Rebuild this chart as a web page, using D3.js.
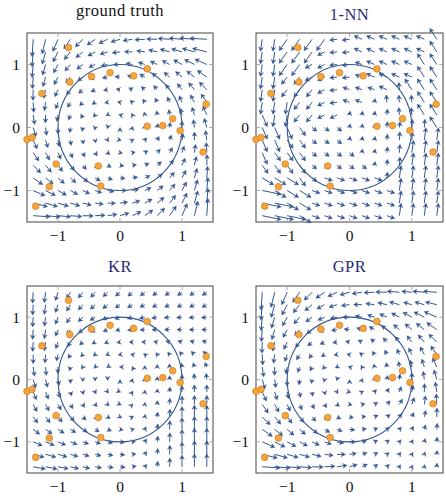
<!DOCTYPE html>
<html><head><meta charset="utf-8">
<script src="https://cdn.jsdelivr.net/npm/d3@7"></script>
<style>body{margin:0;background:#fff}svg{display:block}</style>
</head><body>
<svg id="chart" width="446" height="503"></svg>
<script>
const titles = ["ground truth", "1-NN", "KR", "GPR"];
const tickValues = [-1, 0, 1];
const gridX = [-1.4,-1.2,-1.0,-0.8,-0.6,-0.4,-0.2,0,0.2,0.4,0.6,0.8,1.0,1.2,1.4];
const gridY = [1.4,1.2,1.0,0.8,0.6,0.4,0.2,0,-0.2,-0.4,-0.6,-0.8,-1.0,-1.2,-1.4];
const pointX = [-0.83,0.44,-0.16,0.22,-0.46,-0.81,-1.26,1.39,0.85,0.44,0.69,0.97,-1.50,-1.42,1.34,-1.03,-0.35,-1.14,-0.31,-1.36];
const pointY = [1.27,0.93,0.87,0.82,0.81,0.72,0.54,0.37,0.14,0.02,0.03,-0.05,-0.19,-0.16,-0.39,-0.58,-0.61,-0.94,-0.93,-1.25];
// observed vector at each data point
const pointU = [-.95,-.94,-.88,-.80,-.83,-.68,-.21,-.82,-.07,.09,.08,.07,.77,.60,.2,.70,.56,1.35,.93,2.23];
const pointV = [-1.32,.42,-.10,.29,-.43,-.85,-1.40,1.27,.86,.44,.69,.97,-1.43,-1.37,1.45,-.96,-.44,-.81,-.32,-.45];

// ground truth vector field, rows top (y=1.4) to bottom (y=-1.4)
const truthU = [
[-.17,-.54,-.81,-1.02,-1.16,-1.26,-1.34,-1.4,-1.46,-1.54,-1.64,-1.78,-1.99,-2.26,-2.63],
[-.19,-.53,-.77,-.94,-1.06,-1.13,-1.17,-1.2,-1.23,-1.27,-1.34,-1.46,-1.63,-1.87,-2.21],
[-.17,-.48,-.7,-.85,-.93,-.98,-1.0,-1,-1.0,-1.02,-1.07,-1.15,-1.3,-1.52,-1.83],
[-.13,-.42,-.61,-.74,-.8,-.82,-.82,-.8,-.78,-.78,-.8,-.86,-.99,-1.18,-1.47],
[-.04,-.31,-.49,-.6,-.65,-.66,-.64,-.6,-.56,-.54,-.55,-.6,-.71,-.89,-1.16],
[.08,-.18,-.35,-.45,-.48,-.48,-.45,-.4,-.35,-.32,-.32,-.35,-.45,-.62,-.88],
[.22,-.03,-.19,-.28,-.31,-.3,-.26,-.2,-.14,-.1,-.09,-.12,-.21,-.37,-.62],
[.41,.16,0,-.09,-.11,-.1,-.06,0,.06,.1,.11,.09,0,-.16,-.41],
[.62,.37,.21,.12,.09,.1,.14,.2,.26,.3,.31,.28,.19,.03,-.22],
[.88,.62,.45,.35,.32,.32,.35,.4,.45,.48,.48,.45,.35,.18,-.08],
[1.16,.89,.71,.6,.55,.54,.56,.6,.64,.66,.65,.6,.49,.31,.04],
[1.47,1.18,.99,.86,.8,.78,.78,.8,.82,.82,.8,.74,.61,.42,.13],
[1.83,1.52,1.3,1.15,1.07,1.02,1,1,1,.98,.93,.85,.7,.48,.17],
[2.21,1.87,1.63,1.46,1.34,1.27,1.23,1.2,1.17,1.13,1.06,.94,.77,.53,.19],
[2.63,2.26,1.99,1.78,1.64,1.54,1.46,1.4,1.34,1.26,1.16,1.02,.81,.54,.17]
];
const truthV = [
[-2.63,-2.21,-1.83,-1.47,-1.16,-.88,-.62,-.41,-.22,-.08,.04,.13,.17,.19,.17],
[-2.26,-1.87,-1.52,-1.18,-.89,-.62,-.37,-.16,.03,.18,.31,.42,.48,.53,.54],
[-1.99,-1.63,-1.3,-.99,-.71,-.45,-.21,0,.19,.35,.49,.61,.7,.77,.81],
[-1.78,-1.46,-1.15,-.86,-.6,-.35,-.12,.09,.28,.45,.6,.74,.85,.94,1.02],
[-1.64,-1.34,-1.07,-.8,-.55,-.32,-.09,.11,.31,.48,.65,.8,.93,1.06,1.16],
[-1.54,-1.27,-1.02,-.78,-.54,-.32,-.1,.1,.3,.48,.66,.82,.98,1.13,1.26],
[-1.46,-1.23,-1.0,-.78,-.56,-.35,-.14,.06,.26,.45,.64,.82,1.0,1.17,1.34],
[-1.4,-1.2,-1,-.8,-.6,-.4,-.2,0,.2,.4,.6,.8,1,1.2,1.4],
[-1.34,-1.17,-1.0,-.82,-.64,-.45,-.26,-.06,.14,.35,.56,.78,1.0,1.23,1.46],
[-1.26,-1.13,-.98,-.82,-.66,-.48,-.3,-.1,.1,.32,.54,.78,1.02,1.27,1.54],
[-1.16,-1.06,-.93,-.8,-.65,-.48,-.31,-.11,.09,.32,.55,.8,1.07,1.34,1.64],
[-1.02,-.94,-.85,-.74,-.6,-.45,-.28,-.09,.12,.35,.6,.86,1.15,1.46,1.78],
[-.81,-.77,-.7,-.61,-.49,-.35,-.19,0,.21,.45,.71,.99,1.3,1.63,1.99],
[-.54,-.53,-.48,-.42,-.31,-.18,-.03,.16,.37,.62,.89,1.18,1.52,1.87,2.26],
[-.17,-.19,-.17,-.13,-.04,.08,.22,.41,.62,.88,1.16,1.47,1.83,2.21,2.63]
];

// 1-NN: index (1-based) of the data point whose vector each grid cell shows
const nnCell = [
[7,7,1,1,1,1,3,3,2,2,2,2,2,2,8],
[7,7,1,1,1,5,3,3,2,2,2,2,2,2,8],
[7,7,1,1,5,5,3,3,4,2,2,2,2,8,8],
[7,7,6,6,5,5,3,3,4,2,2,2,2,8,8],
[7,7,6,6,6,5,3,4,4,4,2,9,8,8,8],
[7,7,7,6,6,5,3,4,4,10,9,9,9,8,8],
[14,7,7,6,6,5,5,10,10,10,11,9,9,8,8],
[14,14,14,16,17,17,17,10,10,10,11,11,12,12,8],
[14,14,16,16,17,17,17,10,10,10,11,12,12,15,15],
[14,16,16,16,17,17,17,17,10,10,11,12,15,15,15],
[16,16,16,16,17,17,17,17,17,10,11,12,15,15,15],
[18,18,18,16,17,19,19,19,19,19,11,15,15,15,15],
[20,18,18,18,19,19,19,19,19,19,19,15,15,15,15],
[20,20,18,18,19,19,19,19,19,19,19,15,15,15,15],
[20,20,20,18,19,19,19,19,19,19,19,15,15,15,15]
];

// KR estimate
const krU = [
[-.1,-.2,-.4,-.6,-.7,-.7,-.7,-.7,-.7,-.7,-.7,-.7,-.7,-.7,-.7],
[-.1,-.2,-.4,-.6,-.7,-.75,-.75,-.75,-.75,-.75,-.75,-.75,-.75,-.75,-.75],
[-.1,-.2,-.4,-.6,-.7,-.8,-.8,-.8,-.8,-.85,-.85,-.85,-.85,-.85,-.85],
[-.1,-.2,-.4,-.55,-.65,-.7,-.7,-.7,-.75,-.75,-.8,-.8,-.8,-.8,-.8],
[-.1,-.2,-.35,-.45,-.5,-.5,-.5,-.5,-.5,-.5,-.55,-.6,-.65,-.7,-.75],
[0,-.1,-.25,-.35,-.35,-.3,-.3,-.3,-.3,-.2,-.2,-.3,-.4,-.5,-.6],
[.2,.1,-.05,-.15,-.2,-.2,-.15,-.1,-.05,0,0,-.05,-.1,-.2,-.3],
[.4,.3,.2,.05,0,0,0,0,.05,.05,.05,0,0,-.05,-.1],
[.5,.45,.35,.2,.15,.15,.15,.1,.1,.05,.05,.05,0,0,0],
[.6,.55,.5,.4,.3,.3,.25,.2,.1,.05,.05,.05,0,0,0],
[.7,.7,.65,.6,.5,.45,.4,.3,.2,.1,.05,.05,0,0,0],
[1.0,1.0,.95,.85,.7,.65,.6,.5,.35,.2,.1,.05,0,0,0],
[1.4,1.35,1.2,1.05,.9,.85,.8,.7,.5,.3,.1,.05,0,0,0],
[1.7,1.6,1.4,1.2,1.0,.9,.85,.75,.55,.3,.1,.05,0,0,0],
[1.9,1.8,1.6,1.3,1.1,1.0,.9,.8,.6,.3,.1,.05,0,0,0]
];
const krV = [
[-1.7,-1.6,-1.3,-1.0,-.9,-.8,-.7,-.6,-.6,-.55,-.5,-.5,-.5,-.5,-.5],
[-1.6,-1.5,-1.2,-1.0,-.8,-.7,-.6,-.5,-.45,-.4,-.4,-.4,-.4,-.4,-.4],
[-1.5,-1.4,-1.1,-.9,-.7,-.5,-.4,-.3,-.25,-.2,-.15,-.1,-.1,-.1,-.1],
[-1.5,-1.4,-1.0,-.8,-.55,-.4,-.3,-.15,-.1,-.05,0,0,0,0,0],
[-1.45,-1.35,-1.0,-.7,-.45,-.3,-.2,-.1,0,.05,.1,.15,.2,.2,.2],
[-1.4,-1.3,-1.0,-.6,-.35,-.25,-.15,-.05,.05,.15,.3,.4,.45,.5,.5],
[-1.4,-1.3,-1.0,-.6,-.35,-.2,-.1,0,.1,.25,.4,.5,.6,.65,.7],
[-1.3,-1.2,-.9,-.6,-.35,-.25,-.15,0,.15,.3,.45,.6,.8,.9,.95],
[-1.2,-1.1,-.9,-.6,-.4,-.3,-.2,-.05,.15,.3,.5,.75,1.0,1.1,1.1],
[-1.1,-1.0,-.85,-.65,-.45,-.35,-.25,-.1,.1,.35,.6,.95,1.3,1.4,1.4],
[-.95,-.9,-.8,-.65,-.5,-.4,-.3,-.15,.1,.4,.75,1.2,1.6,1.8,1.8],
[-.75,-.7,-.6,-.5,-.4,-.35,-.25,-.1,.1,.4,.85,1.35,1.8,2.0,2.0],
[-.6,-.55,-.5,-.4,-.35,-.3,-.2,-.1,.1,.45,.9,1.4,1.9,2.1,2.1],
[-.45,-.45,-.4,-.35,-.3,-.25,-.2,-.1,.1,.45,.9,1.4,1.9,2.1,2.1],
[-.35,-.35,-.3,-.3,-.25,-.2,-.15,-.1,.1,.4,.85,1.35,1.8,2.0,2.0]
];

// GPR estimate
const gprU = [
[-.17,-.54,-.81,-1.02,-1.16,-1.26,-1.34,-1.4,-1.46,-1.54,-1.64,-1.78,-1.49,-1.7,-1.97],
[-.19,-.53,-.77,-.94,-1.06,-1.13,-1.17,-1.2,-1.23,-1.27,-1.34,-1.46,-1.22,-1.4,-1.66],
[-.17,-.48,-.7,-.85,-.93,-.98,-1.0,-1,-1.0,-1.02,-1.07,-1.15,-1.3,-1.52,-1.83],
[-.13,-.42,-.61,-.74,-.8,-.82,-.82,-.8,-.78,-.78,-.8,-.86,-.99,-1.18,-1.47],
[-.04,-.31,-.49,-.6,-.65,-.66,-.64,-.6,-.56,-.54,-.55,-.6,-.71,-.89,-1.16],
[.08,-.18,-.35,-.45,-.48,-.48,-.45,-.4,-.35,-.32,-.32,-.35,-.45,-.62,-.88],
[.22,-.03,-.19,-.28,-.31,-.3,-.26,-.2,-.14,-.1,-.09,-.12,-.21,-.37,-.62],
[.41,.16,0,-.09,-.11,-.1,-.06,0,.06,.1,.11,.09,0,-.16,-.41],
[.62,.37,.21,.12,.09,.1,.14,.2,.26,.3,.31,.28,.19,.03,-.22],
[.88,.62,.45,.35,.32,.32,.35,.4,.45,.48,.48,.45,.35,.18,-.08],
[1.16,.89,.71,.6,.55,.54,.56,.6,.58,.53,.46,.36,.29,.22,.03],
[1.47,1.18,.99,.86,.8,.78,.78,.8,.66,.49,.4,.3,.24,.19,.07],
[1.83,1.52,1.3,1.15,1.07,1.02,1,.9,.7,.49,.37,.26,.18,.14,.06],
[2.21,1.87,1.63,1.46,1.34,1.27,1.23,1.02,.76,.51,.32,.24,.15,.11,.05],
[2.63,2.26,1.99,1.78,1.64,1.54,1.46,1.12,.8,.5,.35,.2,.12,.08,.03]
];
const gprV = [
[-2.63,-2.21,-1.83,-1.47,-1.16,-.88,-.62,-.41,-.22,-.08,.04,.13,.13,.14,.13],
[-2.26,-1.87,-1.52,-1.18,-.89,-.62,-.37,-.16,.03,.18,.31,.42,.36,.4,.41],
[-1.99,-1.63,-1.3,-.99,-.71,-.45,-.21,0,.19,.35,.49,.61,.7,.77,.81],
[-1.78,-1.46,-1.15,-.86,-.6,-.35,-.12,.09,.28,.45,.6,.74,.85,.94,1.02],
[-1.64,-1.34,-1.07,-.8,-.55,-.32,-.09,.11,.31,.48,.65,.8,.93,1.06,1.16],
[-1.54,-1.27,-1.02,-.78,-.54,-.32,-.1,.1,.3,.48,.66,.82,.98,1.13,1.26],
[-1.46,-1.23,-1.0,-.78,-.56,-.35,-.14,.06,.26,.45,.64,.82,1.0,1.17,1.34],
[-1.4,-1.2,-1,-.8,-.6,-.4,-.2,0,.2,.4,.6,.8,1,1.2,1.4],
[-1.34,-1.17,-1.0,-.82,-.64,-.45,-.26,-.06,.14,.35,.56,.78,1.0,1.23,1.46],
[-1.26,-1.13,-.98,-.82,-.66,-.48,-.3,-.1,.1,.32,.54,.78,1.02,1.27,1.54],
[-1.16,-1.06,-.93,-.8,-.65,-.48,-.31,-.11,.08,.26,.39,.48,.64,.94,1.31],
[-1.02,-.94,-.85,-.74,-.6,-.45,-.28,-.09,.1,.21,.3,.34,.46,.66,.89],
[-.81,-.77,-.7,-.61,-.49,-.35,-.19,0,.15,.23,.28,.3,.33,.49,.7],
[-.54,-.53,-.48,-.42,-.31,-.18,-.03,.14,.24,.28,.27,.3,.3,.37,.57],
[-.17,-.19,-.17,-.13,-.04,.08,.22,.33,.37,.35,.35,.29,.27,.33,.53]
];

const nnU = nnCell.map(row => row.map(k => pointU[k - 1]));
const nnV = nnCell.map(row => row.map(k => pointV[k - 1]));

const fields = [
  {title: titles[0], U: truthU, V: truthV, color: "#111", scale: 1.0},
  {title: titles[1], U: nnU, V: nnV, color: "#2b2b72", scale: 1.3},
  {title: titles[2], U: krU, V: krV, color: "#2b2b72", scale: 1.0},
  {title: titles[3], U: gprU, V: gprV, color: "#2b2b72", scale: 1.05}
];
const layout = [
  {x0: 27, x1: 213, y0: 33, y1: 222, ty: 16},
  {x0: 256, x1: 443, y0: 33, y1: 222, ty: 20},
  {x0: 27, x1: 213, y0: 286, y1: 473, ty: 272},
  {x0: 256, x1: 443, y0: 286, y1: 473, ty: 272}
];
const arrowColor = "#34578f";
const font = "'Liberation Serif', 'DejaVu Serif', serif";
const svg = d3.select("#chart");
const q = 0.105;

fields.forEach((f, i) => {
  const L = layout[i];
  const sx = d3.scaleLinear().domain([-1.5, 1.5]).range([L.x0, L.x1]);
  const sy = d3.scaleLinear().domain([-1.5, 1.5]).range([L.y1, L.y0]);
  const g = svg.append("g");

  g.append("rect").attr("x", L.x0).attr("y", L.y0)
    .attr("width", L.x1 - L.x0).attr("height", L.y1 - L.y0)
    .attr("fill", "none").attr("stroke", "#444").attr("stroke-width", 1);

  const tk = g.append("g").attr("stroke", "#9a9a9a").attr("stroke-width", 0.8);
  tickValues.forEach(t => {
    tk.append("line").attr("x1", sx(t)).attr("x2", sx(t)).attr("y1", L.y1).attr("y2", L.y1 - 4);
    tk.append("line").attr("x1", sx(t)).attr("x2", sx(t)).attr("y1", L.y0).attr("y2", L.y0 + 4);
    tk.append("line").attr("y1", sy(t)).attr("y2", sy(t)).attr("x1", L.x0).attr("x2", L.x0 + 4);
    tk.append("line").attr("y1", sy(t)).attr("y2", sy(t)).attr("x1", L.x1).attr("x2", L.x1 - 4);
  });

  const fmt = t => t < 0 ? "\u2212" + Math.abs(t) : String(t);
  tickValues.forEach(t => {
    g.append("text").attr("x", sx(t)).attr("y", L.y1 + 19)
      .attr("text-anchor", "middle").attr("font-family", font).attr("font-size", 15.5)
      .attr("fill", "#111").text(fmt(t));
    g.append("text").attr("x", L.x0 - 7).attr("y", sy(t)).attr("dy", "0.35em")
      .attr("text-anchor", "end").attr("font-family", font).attr("font-size", 15.5)
      .attr("fill", "#111").text(fmt(t));
  });

  g.append("text").attr("x", (L.x0 + L.x1) / 2).attr("y", L.ty)
    .attr("text-anchor", "middle").attr("font-family", font).attr("font-size", 16.5)
    .attr("letter-spacing", "0.5px")
    .attr("fill", f.color).text(f.title);

  const arrows = [];
  gridY.forEach((gy, r) => gridX.forEach((gx, c) => {
    arrows.push({x: gx, y: gy, u: f.U[r][c], v: f.V[r][c]});
  }));
  const ag = g.append("g");
  const qq = q * f.scale;
  arrows.forEach(a => {
    const x0 = sx(a.x), y0 = sy(a.y);
    const x1 = sx(a.x + a.u * qq), y1 = sy(a.y + a.v * qq);
    const dx = x1 - x0, dy = y1 - y0;
    const len = Math.hypot(dx, dy);
    const ang = len > 1e-6 ? Math.atan2(dy, dx) : -Math.PI / 2;
    const hl = 4.2, hw = 2.3, notch = 1.3;
    const ca = Math.cos(ang), sa = Math.sin(ang);
    if (len > hl * 0.6) {
      ag.append("line").attr("x1", x0).attr("y1", y0)
        .attr("x2", x1 - ca * notch * 1.2).attr("y2", y1 - sa * notch * 1.2)
        .attr("stroke", arrowColor).attr("stroke-width", 1);
    }
    const p = (bx, by) => [x1 + bx * ca - by * sa, y1 + bx * sa + by * ca];
    const pts = [p(0, 0), p(-hl, hw), p(-hl + notch, 0), p(-hl, -hw)];
    ag.append("path").attr("d", "M" + pts.map(d => d.join(",")).join("L") + "Z")
      .attr("fill", arrowColor).attr("stroke", arrowColor).attr("stroke-width", 0.4)
      .attr("stroke-linejoin", "round");
  });

  g.append("ellipse").attr("cx", sx(0)).attr("cy", sy(0))
    .attr("rx", sx(1) - sx(0)).attr("ry", sy(0) - sy(1))
    .attr("fill", "none").attr("stroke", arrowColor).attr("stroke-width", 1.1);

  g.selectAll("circle.pt").data(pointX.map((x, k) => ({x, y: pointY[k]})))
    .enter().append("circle").attr("class", "pt")
    .attr("cx", d => sx(d.x)).attr("cy", d => sy(d.y)).attr("r", 3.3)
    .attr("fill", "#f5a53c").attr("stroke", "#d4842a").attr("stroke-width", 0.8);
});
</script>
</body></html>
